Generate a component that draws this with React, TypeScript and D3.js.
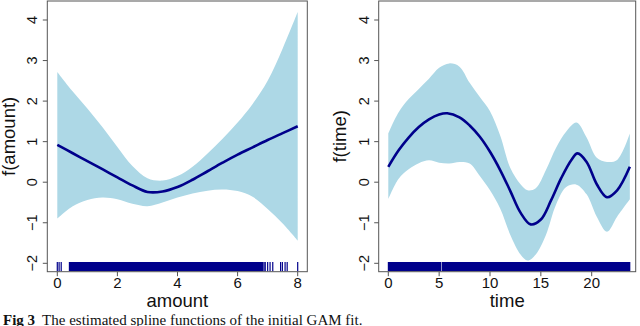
// App.tsx - GAM spline functions, two panels

import React from "react";
import * as d3 from "d3";

// amount panel
const amountGrid = [0, 0.5, 1, 1.5, 2, 2.5, 3, 3.5, 4, 4.5, 5, 5.5, 6, 6.5, 7, 7.5, 8];
const amountFit = [0.92, 0.72, 0.52, 0.32, 0.12, -0.08, -0.24, -0.23, -0.12, 0.06, 0.27, 0.48, 0.68, 0.86, 1.04, 1.21, 1.38];
const amountUpper = [2.72, 2.25, 1.82, 1.36, 0.87, 0.4, 0.1, 0.04, 0.15, 0.38, 0.71, 1.07, 1.47, 1.93, 2.5, 3.3, 4.2];
const amountLower = [-0.9, -0.6, -0.44, -0.38, -0.42, -0.53, -0.59, -0.5, -0.38, -0.28, -0.21, -0.18, -0.22, -0.36, -0.66, -1.02, -1.44];
const amountRugTicks = [0, 0.06, 0.13, 6.88, 6.92, 7.0, 7.08, 7.17, 7.43, 7.49, 7.58, 7.65, 8.0];
const amountRugBands = [[0.4, 6.84]];
const amountTicks = [0, 2, 4, 6, 8];

// time panel
const timeGrid = [0, 1, 2, 3, 4, 5, 6, 7, 8, 9, 10, 11, 12, 13, 13.7, 14.5, 15.5, 16.5, 17.5, 18.5, 19.5, 20.5, 21.5, 22.5, 23.75];
const timeUpper = [1.2, 1.72, 2.05, 2.3, 2.55, 2.82, 2.93, 2.85, 2.45, 2.1, 1.75, 1.15, 0.35, -0.05, -0.2, -0.15, 0.3, 0.85, 1.25, 1.47, 1.1, 0.6, 0.5, 0.55, 1.2];
const timeLower = [-0.42, 0.08, 0.32, 0.47, 0.54, 0.48, 0.46, 0.5, 0.46, 0.15, -0.2, -0.65, -1.3, -1.78, -1.93, -1.78, -1.3, -0.55, -0.12, -0.06, -0.3, -0.85, -1.22, -0.85, -0.42];
const timeFitGrid = [0, 1, 2, 3, 4, 5, 5.8, 7, 8, 9, 10, 11, 12, 13, 14, 15, 16, 17, 18, 18.6, 19.5, 20.5, 21.5, 22.5, 23.75];
const timeFit = [0.38, 0.78, 1.1, 1.36, 1.55, 1.67, 1.7, 1.6, 1.4, 1.12, 0.75, 0.3, -0.22, -0.75, -1.04, -0.92, -0.45, 0.1, 0.55, 0.71, 0.5, -0.05, -0.37, -0.2, 0.38];
const timeRugTicks: number[] = [];
const timeRugBands = [[0, 5.15], [5.3, 23.75]];
const timeTicks = [0, 5, 10, 15, 20];

const yTicks = [-2, -1, 0, 1, 2, 3, 4];

const FILL = "#ADD8E6";
const DARK = "#00008B";
const AXIS = "#555";
const SANS = "'Liberation Sans', Arial, Helvetica, sans-serif";

const boxTop = 1;
const boxBottom = 271.7;
const y = d3.scaleLinear().domain([-2, 4]).range([263.3, 20]);

function Panel({ left, right, x, grid, upper, lower, fitGrid, fit, rugTicks, rugBands, ticks, xLabel, yLabel }) {
  const area = d3
    .area<number>()
    .x((d) => x(grid[d]))
    .y0((d) => y(lower[d]))
    .y1((d) => y(upper[d]))
    .curve(d3.curveCatmullRom.alpha(0.5));
  const line = d3
    .line<number>()
    .x((d) => x(fitGrid[d]))
    .y((d) => y(fit[d]))
    .curve(d3.curveCatmullRom.alpha(0.5));
  const rugTop = 262;
  const cx = (left + right) / 2;
  const cy = (boxTop + boxBottom) / 2;

  return (
    <g>
      <path d={area(d3.range(grid.length)) || ""} fill={FILL} />
      {rugBands.map(([a, b], i) => (
        <rect key={"b" + i} x={x(a) - 0.5} y={rugTop} width={x(b) - x(a) + 1} height={boxBottom - rugTop - 0.5} fill={DARK} />
      ))}
      {rugTicks.map((v, i) => (
        <line key={"r" + i} x1={x(v)} x2={x(v)} y1={rugTop} y2={boxBottom - 0.5} stroke={DARK} strokeWidth={1.2} />
      ))}
      <path d={line(d3.range(fitGrid.length)) || ""} fill="none" stroke={DARK} strokeWidth={2.6} />
      <rect x={left} y={boxTop} width={right - left} height={boxBottom - boxTop} fill="none" stroke={AXIS} strokeWidth={1} />
      {yTicks.map((t) => (
        <g key={"y" + t}>
          <line x1={left - 4.5} x2={left} y1={y(t)} y2={y(t)} stroke={AXIS} />
          <text
            transform={`translate(${left - 10},${y(t)}) rotate(-90)`}
            textAnchor="middle"
            fontSize={14.5}
            fontFamily={SANS}
            fill="#111"
          >
            {t < 0 ? "\u2212" + Math.abs(t) : t}
          </text>
        </g>
      ))}
      {ticks.map((t) => (
        <g key={"x" + t}>
          <line x1={x(t)} x2={x(t)} y1={boxBottom} y2={boxBottom + 4.5} stroke={AXIS} />
          <text x={x(t)} y={288.3} textAnchor="middle" fontSize={15} fontFamily={SANS} fill="#111">
            {t}
          </text>
        </g>
      ))}
      <text x={cx} y={306.5} textAnchor="middle" fontSize={18.5} fontFamily={SANS} fill="#111">
        {xLabel}
      </text>
      <text
        transform={`translate(${left - 32.5},${cy}) rotate(-90)`}
        textAnchor="middle"
        fontSize={18.5}
        fontFamily={SANS}
        fill="#111"
      >
        {yLabel}
      </text>
    </g>
  );
}

export default function App() {
  const xAmount = d3.scaleLinear().domain([0, 8]).range([57.3, 297.7]);
  const xTime = d3.scaleLinear().domain([0, 20]).range([388.3, 591.7]);

  return (
    <div style={{ position: "absolute", left: 0, top: 0 }}>
      <svg width={640} height={326} style={{ display: "block", background: "#fff" }}>
        <Panel
          left={47.3}
          right={307.3}
          x={xAmount}
          grid={amountGrid}
          upper={amountUpper}
          lower={amountLower}
          fitGrid={amountGrid}
          fit={amountFit}
          rugTicks={amountRugTicks}
          rugBands={amountRugBands}
          ticks={amountTicks}
          xLabel="amount"
          yLabel="f(amount)"
        />
        <Panel
          left={378.7}
          right={635.7}
          x={xTime}
          grid={timeGrid}
          upper={timeUpper}
          lower={timeLower}
          fitGrid={timeFitGrid}
          fit={timeFit}
          rugTicks={timeRugTicks}
          rugBands={timeRugBands}
          ticks={timeTicks}
          xLabel="time"
          yLabel="f(time)"
        />
        <text x={3} y={324.5} fontSize={15} fontFamily="'Liberation Serif', 'Times New Roman', serif" fill="#111">
          <tspan fontWeight="bold">Fig 3</tspan>
          <tspan dx={7}>The estimated spline functions of the initial GAM fit.</tspan>
        </text>
      </svg>
    </div>
  );
}
